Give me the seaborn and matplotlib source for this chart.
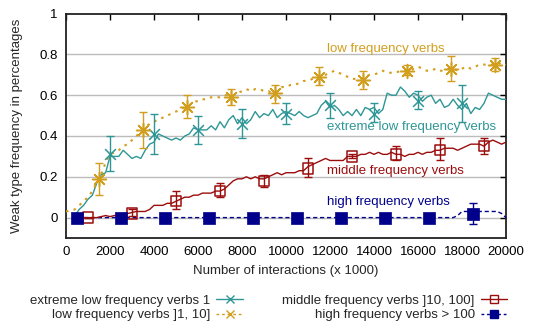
import numpy as np
import pandas as pd
import matplotlib
matplotlib.use("Agg")
import matplotlib.pyplot as plt
from matplotlib.lines import Line2D
import seaborn as sns

# ---------------- data ----------------
# extreme low frequency verbs (teal), line from 400 to 20000 step 200
ext_x = list(range(400, 20001, 200))
ext_y = [0.01, 0.04, 0.06, 0.09, 0.11, 0.17, 0.21, 0.22, 0.30, 0.30,
         0.30, 0.33, 0.31, 0.29, 0.30, 0.29, 0.33, 0.36, 0.37, 0.41,
         0.40, 0.39, 0.38, 0.39, 0.38, 0.40, 0.41, 0.44, 0.43, 0.43,
         0.43, 0.45, 0.43, 0.47, 0.44, 0.48, 0.50, 0.46, 0.49, 0.46,
         0.48, 0.52, 0.49, 0.51, 0.50, 0.53, 0.49, 0.51, 0.52, 0.51,
         0.50, 0.52, 0.50, 0.49, 0.50, 0.51, 0.55, 0.57, 0.54, 0.55,
         0.53, 0.50, 0.52, 0.50, 0.53, 0.50, 0.54, 0.53, 0.54, 0.51,
         0.53, 0.61, 0.60, 0.60, 0.64, 0.62, 0.59, 0.61, 0.60, 0.57,
         0.59, 0.60, 0.56, 0.58, 0.54, 0.55, 0.58, 0.55, 0.53, 0.56,
         0.51, 0.54, 0.53, 0.56, 0.61, 0.60, 0.59, 0.58, 0.58]
ext_px = [2000, 4000, 6000, 8000, 10000, 12000, 14000, 16000, 18000]
ext_py = [0.31, 0.41, 0.43, 0.46, 0.51, 0.55, 0.51, 0.57, 0.56]
ext_lo = [0.23, 0.31, 0.36, 0.39, 0.46, 0.49, 0.47, 0.53, 0.47]
ext_hi = [0.40, 0.51, 0.50, 0.53, 0.56, 0.61, 0.56, 0.62, 0.65]

# low frequency verbs (gold), line from 0 to 20000 step 200
low_x = list(range(0, 20001, 200))
low_y = [0.03, 0.035, 0.04, 0.06, 0.08, 0.10, 0.13, 0.17, 0.21, 0.27,
         0.31, 0.32, 0.33, 0.35, 0.36, 0.38, 0.40, 0.42, 0.44, 0.46,
         0.47, 0.48, 0.49, 0.50, 0.51, 0.52, 0.53, 0.54, 0.55, 0.57,
         0.57, 0.58, 0.58, 0.59, 0.59, 0.59, 0.60, 0.60, 0.60, 0.61,
         0.62, 0.63, 0.62, 0.63, 0.63, 0.62, 0.62, 0.61, 0.62, 0.64,
         0.64, 0.65, 0.65, 0.66, 0.67, 0.67, 0.68, 0.69, 0.69, 0.70,
         0.71, 0.72, 0.71, 0.70, 0.69, 0.68, 0.68, 0.68, 0.69, 0.70,
         0.70, 0.71, 0.72, 0.71, 0.71, 0.71, 0.72, 0.72, 0.72, 0.73,
         0.74, 0.73, 0.72, 0.72, 0.73, 0.72, 0.72, 0.73, 0.73, 0.72,
         0.73, 0.74, 0.73, 0.74, 0.75, 0.75, 0.75, 0.75, 0.75, 0.76,
         0.75]
low_px = [1500, 3500, 5500, 7500, 9500, 11500, 13500, 15500, 17500, 19500]
low_py = [0.19, 0.43, 0.54, 0.59, 0.61, 0.69, 0.675, 0.72, 0.73, 0.75]
low_lo = [0.11, 0.34, 0.49, 0.55, 0.56, 0.65, 0.63, 0.70, 0.67, 0.72]
low_hi = [0.27, 0.52, 0.60, 0.63, 0.65, 0.74, 0.72, 0.75, 0.79, 0.78]

# middle frequency verbs (dark red), line from 400 to 20000 step 200
mid_x = list(range(400, 20001, 200))
mid_y = [0.0, 0.0, 0.0, 0.0, 0.0, 0.0, 0.005, 0.01, 0.005,
         0.01, 0.01, 0.02, 0.02, 0.025, 0.03, 0.03, 0.03, 0.04, 0.06,
         0.06, 0.06, 0.07, 0.07, 0.08, 0.09, 0.10, 0.10, 0.11, 0.11,
         0.12, 0.12, 0.12, 0.13, 0.13, 0.14, 0.16, 0.18, 0.19, 0.19,
         0.20, 0.19, 0.20, 0.19, 0.19, 0.20, 0.21, 0.22, 0.21, 0.22,
         0.22, 0.22, 0.23, 0.23, 0.25, 0.26, 0.27, 0.28, 0.29, 0.28,
         0.28, 0.28, 0.28, 0.30, 0.30, 0.30, 0.31, 0.31, 0.32, 0.31,
         0.32, 0.31, 0.31, 0.32, 0.31, 0.31, 0.30, 0.31, 0.31, 0.32,
         0.31, 0.32, 0.32, 0.33, 0.33, 0.34, 0.34, 0.34, 0.33, 0.34,
         0.35, 0.36, 0.36, 0.36, 0.35, 0.37, 0.38, 0.37, 0.36, 0.37]
mid_px = [1000, 3000, 5000, 7000, 9000, 11000, 13000, 15000, 17000, 19000]
mid_py = [0.0, 0.02, 0.08, 0.13, 0.18, 0.24, 0.30, 0.31, 0.33, 0.35]
mid_lo = [0.0, 0.01, 0.04, 0.10, 0.15, 0.20, 0.29, 0.28, 0.28, 0.31]
mid_hi = [0.0, 0.04, 0.13, 0.17, 0.21, 0.29, 0.31, 0.35, 0.39, 0.39]

# high frequency verbs (navy)
high_x = [500, 17600, 17800, 18000, 18400, 18800, 19200, 19600, 19800, 20000]
high_y = [0.0, 0.0, 0.01, 0.03, 0.03, 0.03, 0.03, 0.03, 0.02, 0.0]
high_px = [500, 2500, 4500, 6500, 8500, 10500, 12500, 14500, 16500, 18500]
high_py = [0.0, 0.0, 0.0, 0.0, 0.0, 0.0, 0.0, 0.0, 0.0, 0.02]
high_lo = [0.0, 0.0, 0.0, 0.0, 0.0, 0.0, 0.0, 0.0, 0.0, -0.03]
high_hi = [0.0, 0.0, 0.0, 0.0, 0.0, 0.0, 0.0, 0.0, 0.0, 0.07]

labels = ["extreme low frequency verbs 1", "low frequency verbs ]1, 10]",
          "middle frequency verbs ]10, 100]", "high frequency verbs > 100"]
inline_labels = ["extreme low frequency verbs", "low frequency verbs",
                 "middle frequency verbs", "high frequency verbs"]
x_ticks = list(range(0, 20001, 2000))
y_ticks = [0, 0.2, 0.4, 0.6, 0.8, 1]

C_EXT = "#2e9696"
C_LOW = "#d29e1e"
C_MID = "#9b0d0d"
C_HIGH = "#00008b"
FS = 9.5

# ---------------- plot ----------------
sns.set_theme(style="white")
plt.rcParams["font.family"] = ["Liberation Sans", "DejaVu Sans"]

fig = plt.figure(figsize=(5.35, 3.27), dpi=100)
ax = fig.add_axes([66 / 535, 1 - 238 / 327, (506 - 66) / 535, (238 - 13.6) / 327])

for yv in [0, 0.2, 0.4, 0.6, 0.8]:
    ax.axhline(yv, color="#bcbcbc", lw=1.0, zorder=0)

# lines
sns.lineplot(x=high_x, y=high_y, color=C_HIGH, lw=1.0, linestyle=(0, (3, 2)), ax=ax, zorder=3)
sns.lineplot(x=mid_x, y=mid_y, color=C_MID, lw=1.0, ax=ax, zorder=3)
sns.lineplot(x=ext_x, y=ext_y, color=C_EXT, lw=1.0, ax=ax, zorder=3)
sns.lineplot(x=low_x, y=low_y, color=C_LOW, lw=1.5, linestyle=(0, (1.2, 2.5)), ax=ax, zorder=3)

# error bars
def errbars(px, py, lo, hi, color):
    py = np.array(py)
    ax.errorbar(px, py, yerr=[py - np.array(lo), np.array(hi) - py], fmt="none",
                ecolor=color, elinewidth=1.0, capsize=3, capthick=1.0, zorder=4)

errbars(ext_px, ext_py, ext_lo, ext_hi, C_EXT)
errbars(low_px, low_py, low_lo, low_hi, C_LOW)
errbars(mid_px, mid_py, mid_lo, mid_hi, C_MID)
errbars(high_px, high_py, high_lo, high_hi, C_HIGH)

# markers
sns.scatterplot(x=ext_px, y=ext_py, marker="x", s=60, color=C_EXT, linewidth=1.1, ax=ax, zorder=5)
sns.scatterplot(x=low_px, y=low_py, marker=(8, 2, 0), s=100, color=C_LOW, linewidth=1.1, ax=ax, zorder=5)
sns.scatterplot(x=mid_px, y=mid_py, marker="s", s=55, facecolor="none", edgecolor=C_MID,
                linewidth=1.1, ax=ax, zorder=5)
sns.scatterplot(x=high_px, y=high_py, marker="s", s=70, color=C_HIGH, edgecolor=C_HIGH,
                linewidth=0.5, ax=ax, zorder=5)

# inline labels
ax.text(11850, 0.825, inline_labels[1], color=C_LOW, fontsize=FS, va="center", ha="left")
ax.text(11850, 0.445, inline_labels[0], color=C_EXT, fontsize=FS, va="center", ha="left")
ax.text(11850, 0.228, inline_labels[2], color=C_MID, fontsize=FS, va="center", ha="left")
ax.text(11850, 0.075, inline_labels[3], color=C_HIGH, fontsize=FS, va="center", ha="left")

ax.set_xlim(0, 20000)
ax.set_ylim(-0.1, 1.0)
ax.set_xticks(x_ticks)
ax.set_xticklabels([str(t) for t in x_ticks])
ax.set_yticks(y_ticks)
ax.set_yticklabels(["0", "0.2", "0.4", "0.6", "0.8", "1"])
ax.tick_params(direction="in", length=4, width=1, top=True, right=True,
               labelsize=FS, pad=6, colors="black")
for sp in ax.spines.values():
    sp.set_visible(True)
    sp.set_color("#222222")
    sp.set_linewidth(1.3)

ax.set_xlabel("Number of interactions (x 1000)", fontsize=FS, labelpad=5)
ax.set_ylabel("Weak type frequency in percentages", fontsize=FS, labelpad=12)

handles = [
    Line2D([], [], color=C_EXT, lw=1.0, marker="x", markersize=6),
    Line2D([], [], color=C_LOW, lw=1.0, linestyle=(0, (2, 2)), marker="x", markersize=6),
    Line2D([], [], color=C_MID, lw=1.0, marker="s", markersize=6, markerfacecolor="none"),
    Line2D([], [], color=C_HIGH, lw=1.0, linestyle=(0, (2, 2)), marker="s", markersize=6),
]
leg = fig.legend(handles, labels, ncol=2, loc="center", bbox_to_anchor=(0.502, 0.058),
                 frameon=False, markerfirst=False, fontsize=FS, handlelength=2.0,
                 columnspacing=3.0, labelspacing=0.15, handletextpad=0.45)

fig.savefig("out.png", dpi=100)
